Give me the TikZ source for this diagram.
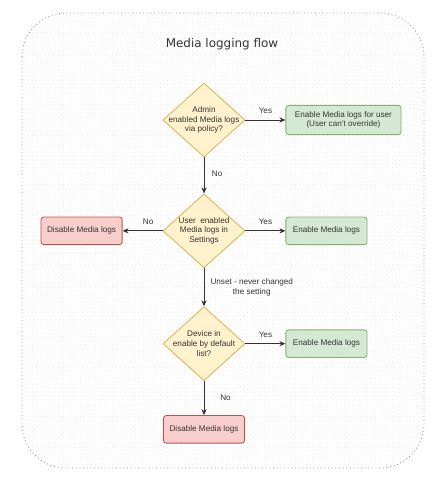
\documentclass[tikz,border=0pt]{standalone}
\usepackage{fontspec}
\setmainfont{Liberation Sans}
\newfontfamily\titlefont{DejaVu Sans}
\usetikzlibrary{arrows.meta,positioning,shapes.geometric,patterns}
\definecolor{Ink}{HTML}{333333}
\definecolor{Frame}{HTML}{8A8A8A}
\definecolor{Hatch}{HTML}{E4E4E4}
\definecolor{AskFill}{HTML}{FFF2CC}
\definecolor{AskLine}{HTML}{D6B656}
\definecolor{OnFill}{HTML}{D5E8D4}
\definecolor{OnLine}{HTML}{82B366}
\definecolor{OffFill}{HTML}{F8CECC}
\definecolor{OffLine}{HTML}{B85450}
\tikzset{
  decision/.style={
    diamond, draw=AskLine, fill=AskFill, line width=0.6pt,
    minimum width=2.05cm, minimum height=1.85cm, inner sep=0pt
  },
  asktext/.style={
    align=center, inner sep=0pt, text=Ink,
    font=\fontsize{5.8}{6.9}\selectfont
  },
  enablebox/.style={
    rounded corners=2pt, draw=OnLine, fill=OnFill, line width=0.6pt,
    minimum width=2.03cm, minimum height=0.69cm, align=center,
    text=Ink, font=\fontsize{5.8}{6.9}\selectfont
  },
  disablebox/.style={
    rounded corners=2pt, draw=OffLine, fill=OffFill, line width=0.6pt,
    minimum width=2.03cm, minimum height=0.69cm, align=center,
    text=Ink, font=\fontsize{5.8}{6.9}\selectfont
  },
  edgetext/.style={align=center, text=Ink, font=\fontsize{5.8}{6.9}\selectfont},
  flow/.style={-{Stealth[length=1.5mm,width=1.3mm]}, line width=0.6pt, draw=Ink}
}

\begin{document}
\begin{tikzpicture}
    \useasboundingbox (0,0) rectangle (11.1,-12);
    \draw[Frame, dotted, line width=0.6pt, rounded corners=1.1cm,
      pattern=north east lines, pattern color=Hatch] (0.55,-0.325) rectangle (10.6,-11.7);
    \node[text=Ink, font=\titlefont\fontsize{8.5}{10}\selectfont] (title) at (5.55,-1.1) {Media logging flow};
    \node[decision, label={[asktext]center:{Admin\\enabled Media logs\\via policy?}}] (adminq) at (5.1,-3.0) {};
    \node[enablebox, right=1cm of adminq, minimum width=2.88cm, minimum height=0.73cm] (admintrue) {Enable Media logs for user\\(User can't override)};
    \node[decision, below=0.9cm of adminq, label={[asktext]center:{User\ \ enabled\\Media logs in\\Settings}}] (userq) {};
    \node[disablebox, left=1cm of userq] (userno) {Disable Media logs};
    \node[enablebox, right=1cm of userq] (useryes) {Enable Media logs};
    \node[decision, below=0.95cm of userq, label={[asktext]center:{Device in\\enable by default\\list?}}] (deviceq) {};
    \node[enablebox, right=1cm of deviceq] (deviceyes) {Enable Media logs};
    \node[disablebox, below=0.85cm of deviceq] (deviceno) {Disable Media logs};
    \draw[flow] (adminq) -- node[edgetext, above, yshift=1pt] {Yes} (admintrue);
    \draw[flow] (adminq) -- node[edgetext, right, pos=0.45, xshift=2pt] {No} (userq);
    \draw[flow] (userq) -- node[edgetext, above, yshift=1pt] {Yes} (useryes);
    \draw[flow] (userq) -- node[edgetext, above, yshift=1pt, xshift=4pt] {No} (userno);
    \draw[flow] (userq) -- node[edgetext, right, pos=0.5, xshift=1pt] {Unset - never changed\\the setting} (deviceq);
    \draw[flow] (deviceq) -- node[edgetext, above, yshift=1pt] {Yes} (deviceyes);
    \draw[flow] (deviceq) -- node[edgetext, right, pos=0.5, xshift=8pt] {No} (deviceno);
  \end{tikzpicture}
\end{document}
